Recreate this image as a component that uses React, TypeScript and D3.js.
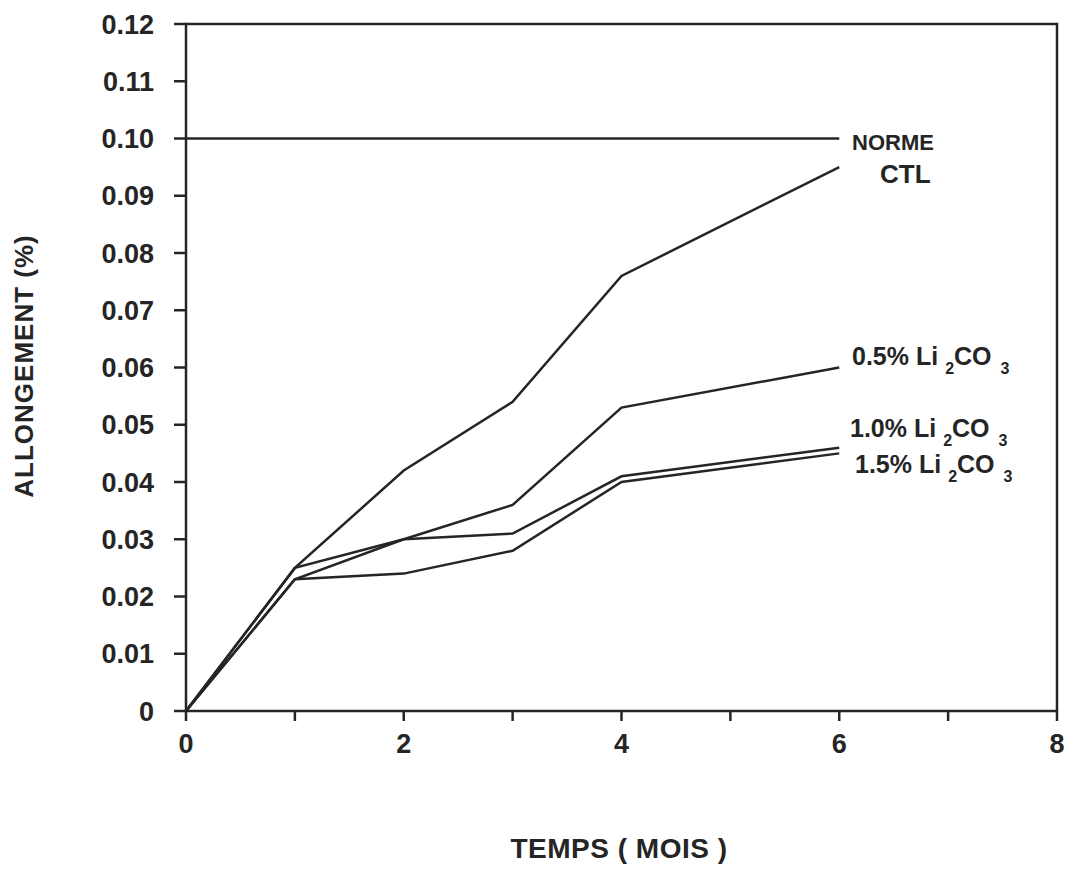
import React from 'react';
import * as d3 from 'd3';

const months = [0, 1, 2, 3, 4, 6];
const ctl = [0, 0.025, 0.042, 0.054, 0.076, 0.095];
const li05 = [0, 0.025, 0.030, 0.036, 0.053, 0.060];
const li10 = [0, 0.023, 0.030, 0.031, 0.041, 0.046];
const li15 = [0, 0.023, 0.024, 0.028, 0.040, 0.045];
const normeValue = 0.10;
const normeRange = [0, 6];
const yTicks = [0, 0.01, 0.02, 0.03, 0.04, 0.05, 0.06, 0.07, 0.08, 0.09, 0.10, 0.11, 0.12];
const xTicks = [0, 1, 2, 3, 4, 5, 6, 7, 8];
const xLabels = [0, 2, 4, 6, 8];

const W = 1067;
const H = 870;
const left = 186, right = 1057, top = 24, bottom = 711;
const ink = '#252525';
const font = '"Liberation Sans", Arial, sans-serif';

export default function App() {
  const x = d3.scaleLinear().domain([0, 8]).range([left, right]);
  const y = d3.scaleLinear().domain([0, 0.12]).range([bottom, top]);
  const line = d3.line<number>().x((_, i) => x(months[i])).y(d => y(d));

  const series = [ctl, li05, li10, li15];

  const liLabel = (pct: string, lx: number, ly: number) => (
    <text x={lx} y={ly} fontSize={25} fontWeight="bold" fill={ink} fontFamily={font}>
      {pct} Li<tspan fontSize={16} dy={9} dx={7}>2</tspan>
      <tspan dy={-9} dx={0}>CO</tspan>
      <tspan fontSize={16} dy={9} dx={9}>3</tspan>
    </text>
  );

  return (
    <svg width={W} height={H} style={{ position: 'absolute', left: 0, top: 0, background: '#fff' }}>
      <rect x={left} y={top} width={right - left} height={bottom - top} fill="none" stroke={ink} strokeWidth={2.5} />
      {yTicks.map(t => (
        <g key={'y' + t}>
          <line x1={left - 12} x2={left} y1={y(t)} y2={y(t)} stroke={ink} strokeWidth={2.5} />
          <text x={154} y={y(t)} dy="0.36em" textAnchor="end" fontSize={27} fontWeight="bold" fill={ink} fontFamily={font}>
            {t === 0 ? '0' : t.toFixed(2)}
          </text>
        </g>
      ))}
      {xTicks.map(t => (
        <line key={'x' + t} x1={x(t)} x2={x(t)} y1={bottom} y2={bottom + 10} stroke={ink} strokeWidth={2.5} />
      ))}
      {xLabels.map(t => (
        <text key={'xl' + t} x={x(t)} y={753} textAnchor="middle" fontSize={27} fontWeight="bold" fill={ink} fontFamily={font}>
          {t}
        </text>
      ))}
      <line x1={x(normeRange[0])} x2={x(normeRange[1])} y1={y(normeValue)} y2={y(normeValue)} stroke={ink} strokeWidth={2.5} />
      {series.map((s, i) => (
        <path key={i} d={line(s) || ''} fill="none" stroke={ink} strokeWidth={2.5} />
      ))}
      <text x={852} y={150} fontSize={22} fontWeight="bold" fill={ink} fontFamily={font}>NORME</text>
      <text x={880} y={183} fontSize={26} fontWeight="bold" fill={ink} fontFamily={font}>CTL</text>
      {liLabel('0.5%', 852, 365)}
      {liLabel('1.0%', 850, 437)}
      {liLabel('1.5%', 855, 473)}
      <text transform={`translate(33,366) rotate(-90)`} textAnchor="middle" fontSize={26} letterSpacing={1} fontWeight="bold" fill={ink} fontFamily={font}>
        ALLONGEMENT (%)
      </text>
      <text x={619} y={858} textAnchor="middle" fontSize={28} letterSpacing={0.5} fontWeight="bold" fill={ink} fontFamily={font}>
        TEMPS ( MOIS )
      </text>
    </svg>
  );
}
